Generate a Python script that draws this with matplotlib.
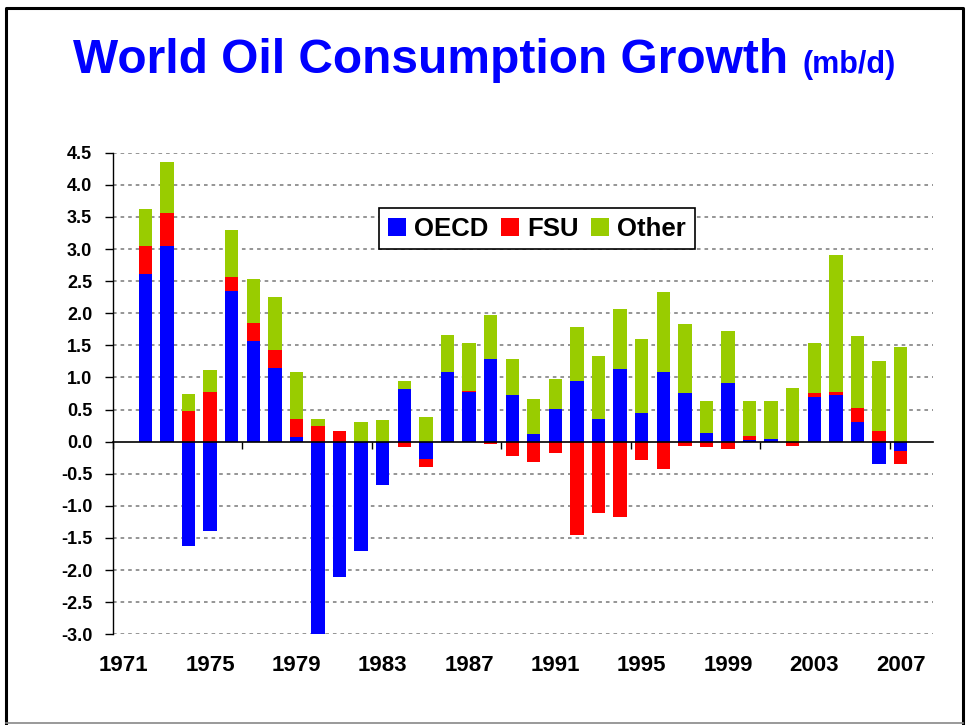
import matplotlib
matplotlib.use("Agg")
import matplotlib.pyplot as plt
import numpy as np
from matplotlib.lines import Line2D
from matplotlib.patches import Patch

plt.rcParams['font.family'] = ['Liberation Sans', 'DejaVu Sans']
plt.rcParams['font.weight'] = 'bold'

# category axis runs 1971..2008, data for 1972..2007
axis_years = list(range(1971, 2009))
years = [1972, 1973, 1974, 1975, 1976, 1977, 1978, 1979, 1980, 1981, 1982, 1983,
         1984, 1985, 1986, 1987, 1988, 1989, 1990, 1991, 1992, 1993, 1994, 1995,
         1996, 1997, 1998, 1999, 2000, 2001, 2002, 2003, 2004, 2005, 2006, 2007]

oecd = [2.61, 3.04, -1.63, -1.39, 2.35, 1.57, 1.14, 0.08, -3.00, -2.11, -1.71, -0.67,
        0.82, -0.27, 1.08, 0.77, 1.28, 0.73, 0.12, 0.51, 0.94, 0.35, 1.13, 0.45,
        1.08, 0.76, 0.14, 0.92, 0.03, 0.04, 0.00, 0.70, 0.73, 0.30, -0.35, -0.15]
fsu = [0.43, 0.52, 0.47, 0.78, 0.22, 0.28, 0.29, 0.27, 0.25, 0.17, 0.00, 0.00,
       -0.09, -0.12, 0.00, 0.02, -0.04, -0.22, -0.32, -0.17, -1.45, -1.11, -1.18, -0.29,
       -0.43, -0.06, -0.08, -0.11, 0.06, 0.00, -0.06, 0.05, 0.05, 0.23, 0.16, -0.20]
other = [0.58, 0.79, 0.27, 0.33, 0.73, 0.69, 0.83, 0.74, 0.10, 0.00, 0.31, 0.33,
         0.12, 0.38, 0.58, 0.74, 0.70, 0.55, 0.55, 0.46, 0.84, 0.98, 0.94, 1.15,
         1.25, 1.07, 0.50, 0.81, 0.55, 0.60, 0.83, 0.79, 2.12, 1.11, 1.10, 1.48]

labels = ['OECD', 'FSU', 'Other']
colors = ['#0000FF', '#FF0000', '#99CC00']
year_ticks = [1971, 1975, 1979, 1983, 1987, 1991, 1995, 1999, 2003, 2007]
y_ticks = [-3.0, -2.5, -2.0, -1.5, -1.0, -0.5, 0.0, 0.5, 1.0, 1.5, 2.0, 2.5, 3.0, 3.5, 4.0, 4.5]

fig = plt.figure(figsize=(9.66, 7.25), dpi=100)
ax = fig.add_axes([113/966, 1-634.3/725, (933-113)/966, (634.3-152.7)/725])

# stacked bars: positives stack up from 0, negatives stack down from 0
x = np.array([axis_years.index(y) for y in years])
pos_base = np.zeros(len(years))
neg_base = np.zeros(len(years))
for vals, c in zip([oecd, fsu, other], colors):
    v = np.array(vals)
    base = np.where(v >= 0, pos_base, neg_base)
    ax.bar(x, v, bottom=base, width=0.62, color=c, linewidth=0, zorder=3)
    pos_base += np.where(v >= 0, v, 0)
    neg_base += np.where(v < 0, v, 0)

# axes styling
ax.set_xlim(-0.5, len(axis_years) - 0.5)
ax.set_ylim(-3.0, 4.5)
ax.set_yticks(y_ticks)
ax.set_yticklabels(['%.1f' % t for t in y_ticks])
ax.tick_params(axis='y', direction='out', length=6, width=1, pad=9, labelsize=13)
for t in y_ticks:
    if t != 0:
        ax.axhline(t, color='#8c8c8c', lw=1.3, ls=(0, (2, 2.2)), zorder=1)

for s in ['top', 'right']:
    ax.spines[s].set_visible(False)
ax.spines['left'].set_linewidth(1)
ax.spines['bottom'].set_position(('data', 0))
ax.spines['bottom'].set_linewidth(1.2)
ax.spines['bottom'].set_zorder(4)
ax.set_xticks(np.arange(-0.5, len(axis_years), 6))
ax.set_xticklabels([])
ax.tick_params(axis='x', direction='out', length=5, width=1)

# year labels sit at the bottom of the plot area
sec = ax.secondary_xaxis(0)
sec.set_xticks([axis_years.index(y) for y in year_ticks])
sec.set_xticklabels([str(y) for y in year_ticks])
sec.spines['bottom'].set_visible(False)
sec.tick_params(length=0, pad=15, labelsize=16)

# legend
handles = [Patch(facecolor=c, edgecolor='none') for c in colors]
leg = fig.legend(handles, labels, loc='center', bbox_to_anchor=(537/966, 1-228.5/725),
                 ncol=3, fontsize=18.5, handlelength=0.7, handleheight=0.7,
                 handletextpad=0.3, columnspacing=0.5, borderpad=0.35,
                 fancybox=False, framealpha=1)
leg.get_frame().set_edgecolor('black')
leg.get_frame().set_linewidth(1.2)

# title
fig.text(73/966, 1-73/725, 'World Oil Consumption Growth', color='#0000FF',
         fontsize=34.5, fontweight='bold', va='baseline', ha='left')
fig.text(802/966, 1-73/725, '(mb/d)', color='#0000FF',
         fontsize=22, fontweight='bold', va='baseline', ha='left')

# slide frame
fig.add_artist(Line2D([6/966, 6/966, 963/966, 963/966], [1-723/725, 1-8/725, 1-8/725, 1-723/725],
                      color='black', lw=2.2, transform=fig.transFigure))
fig.add_artist(Line2D([6/966, 963/966], [1-723/725, 1-723/725],
                      color='#888888', lw=1.2, transform=fig.transFigure))

fig.savefig('out.png', dpi=100)
